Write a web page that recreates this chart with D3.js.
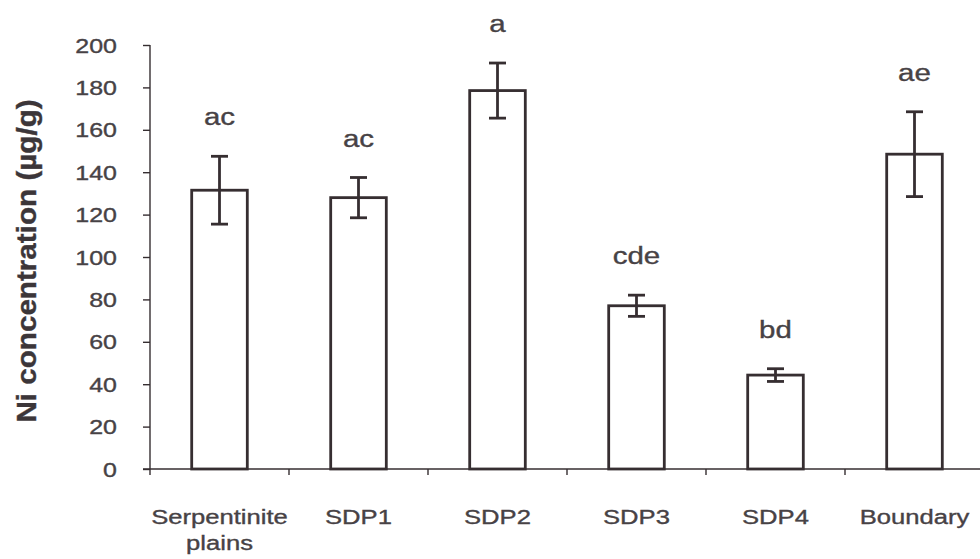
<!DOCTYPE html>
<html>
<head>
<meta charset="utf-8">
<script src="https://cdn.jsdelivr.net/npm/d3@7"></script>
<style>
  html, body { margin: 0; padding: 0; background: #ffffff; }
  svg { display: block; }
  text { font-family: "Liberation Sans", Arial, Helvetica, sans-serif; fill: #474245; stroke: #474245; stroke-width: 0.35px; }
</style>
</head>
<body>
<svg id="chart" width="980" height="559"></svg>
<script>
// Mean Ni concentration (µg/g) per site with standard error and significance groups
const categories = [["Serpentinite", "plains"], ["SDP1"], ["SDP2"], ["SDP3"], ["SDP4"], ["Boundary"]];
const means      = [131.5, 128, 178.5, 77, 44.3, 148.5];
const errors     = [16, 9.5, 13, 5, 3, 20];
const groups     = ["ac", "ac", "a", "cde", "bd", "ae"];
const yTicks     = [0, 20, 40, 60, 80, 100, 120, 140, 160, 180, 200];
const yTitle     = "Ni concentration (µg/g)";

const INK = "#362e31";
const TEXT_STRETCH = 1.28; // horizontal widening of glyphs

const svg = d3.select("#chart");
const keys = categories.map(c => c.join(" "));

const x = d3.scaleBand().domain(keys).range([150, 984]).paddingInner(0.6).paddingOuter(0.3);
const y = d3.scaleLinear().domain([0, 200]).range([469, 45]);

// widen a text element horizontally about its anchor
function stretch(sel) {
  sel.each(function () {
    const w = this.getComputedTextLength();
    d3.select(this).attr("textLength", w * TEXT_STRETCH).attr("lengthAdjust", "spacingAndGlyphs");
  });
}

// Y axis
const yAxis = svg.append("g")
  .attr("transform", "translate(150,0)")
  .call(d3.axisLeft(y).tickValues(yTicks).tickSize(7).tickPadding(26));
yAxis.select(".domain").attr("stroke", INK).attr("stroke-width", 1.4).attr("d", `M0,${y(200)}V${y(0)}`);
yAxis.selectAll(".tick line").attr("stroke", INK).attr("stroke-width", 1.4);
yAxis.selectAll(".tick text")
  .attr("font-size", 19.5).attr("fill", "#474245")
  .style("font-family", "'Liberation Sans', Arial, sans-serif")
  .attr("dy", "0.36em")
  .call(stretch);

// X axis with ticks on category boundaries
const boundaries = keys.map(k => x(k) - x.step() * x.paddingInner() / 2);
const xAxisG = svg.append("g");
xAxisG.append("line")
  .attr("x1", 143).attr("x2", 980).attr("y1", y(0)).attr("y2", y(0))
  .attr("stroke", INK).attr("stroke-width", 1.4);
xAxisG.selectAll("line.tick").data(boundaries).join("line")
  .attr("class", "tick")
  .attr("x1", d => d).attr("x2", d => d)
  .attr("y1", y(0)).attr("y2", y(0) + 6)
  .attr("stroke", INK).attr("stroke-width", 1.4);

// category labels
const catLabels = svg.append("g").selectAll("text").data(categories).join("text")
  .attr("text-anchor", "middle")
  .attr("font-size", 20)
  .attr("x", (d, i) => x(keys[i]) + x.bandwidth() / 2)
  .attr("y", 524);
catLabels.selectAll("tspan").data(d => d).join("tspan")
  .attr("x", function () { return d3.select(this.parentNode).attr("x"); })
  .attr("dy", (d, i) => i === 0 ? 0 : 26)
  .text(d => d);
catLabels.selectAll("tspan").each(function () {
  const w = this.getComputedTextLength();
  d3.select(this).attr("textLength", w * TEXT_STRETCH).attr("lengthAdjust", "spacingAndGlyphs");
});

// Y axis title
svg.append("text")
  .attr("transform", "translate(36,261) rotate(-90) scale(1.14,1.05)")
  .attr("text-anchor", "middle")
  .attr("font-size", 26)
  .attr("font-weight", "bold")
  .style("fill", "#3c3639").style("stroke", "#3c3639")
  .text(yTitle);

// bars
svg.append("g").selectAll("rect").data(means).join("rect")
  .attr("x", (d, i) => x(keys[i]))
  .attr("width", x.bandwidth())
  .attr("y", d => y(d))
  .attr("height", d => y(0) - y(d))
  .attr("fill", "#ffffff")
  .attr("stroke", INK)
  .attr("stroke-width", 2.8);

// error bars
const capHalf = 8.5;
const eb = svg.append("g").attr("stroke", INK).attr("stroke-width", 2.8).attr("fill", "none");
means.forEach((m, i) => {
  const cx = x(keys[i]) + x.bandwidth() / 2;
  const hi = y(m + errors[i]), lo = y(m - errors[i]);
  eb.append("line").attr("x1", cx).attr("x2", cx).attr("y1", hi).attr("y2", lo);
  eb.append("line").attr("x1", cx - capHalf).attr("x2", cx + capHalf).attr("y1", hi).attr("y2", hi);
  eb.append("line").attr("x1", cx - capHalf).attr("x2", cx + capHalf).attr("y1", lo).attr("y2", lo);
});

// significance letters
svg.append("g").selectAll("text").data(groups).join("text")
  .attr("text-anchor", "middle")
  .attr("font-size", 23)
  .attr("x", (d, i) => x(keys[i]) + x.bandwidth() / 2)
  .attr("y", (d, i) => y(means[i] + errors[i]) - 31)
  .text(d => d)
  .call(stretch);
</script>
</body>
</html>
